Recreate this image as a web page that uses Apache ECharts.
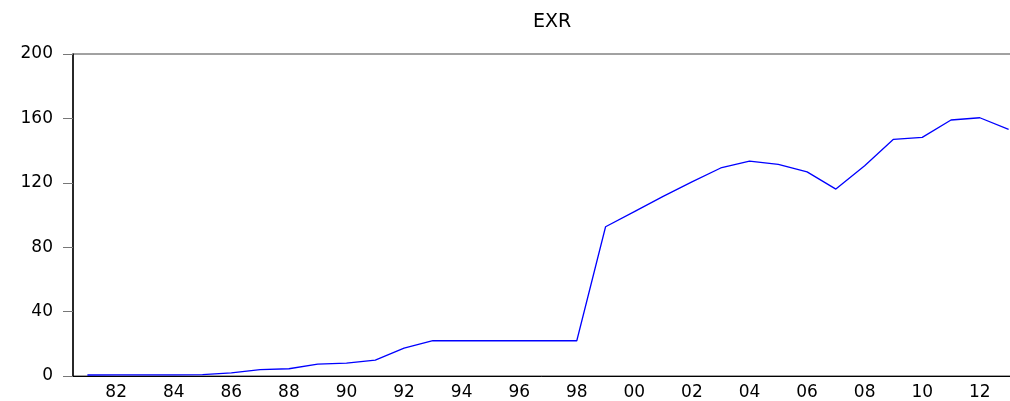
<!DOCTYPE html>
<html>
<head>
<meta charset="utf-8">
<script src="https://cdn.jsdelivr.net/npm/echarts@6/dist/echarts.min.js"></script>
<style>
  html, body { margin: 0; padding: 0; background: #fff; }
  #chart { width: 1010px; height: 401px; }
</style>
</head>
<body>
<div id="chart"></div>
<script>
// years shown on the category axis
var years = ['1981','1982','1983','1984','1985','1986','1987','1988','1989','1990',
             '1991','1992','1993','1994','1995','1996','1997','1998','1999','2000',
             '2001','2002','2003','2004','2005','2006','2007','2008','2009','2010',
             '2011','2012','2013'];
// EXR values
var exr = [0.61, 0.67, 0.72, 0.76, 0.89, 2.0, 4.0, 4.5, 7.4, 8.0,
           9.9, 17.3, 21.9, 21.9, 21.9, 21.9, 21.9, 21.9, 92.7, 102.1,
           111.6, 120.6, 129.2, 133.4, 131.4, 126.8, 116.1, 130.6, 147.0, 148.2,
           159.0, 160.4, 153.2];
var yTicks = [0, 40, 80, 120, 160, 200];

var chart = echarts.init(document.getElementById('chart'));
chart.setOption({
    animation: false,
    backgroundColor: '#fff',
    title: {
        text: 'EXR',
        left: 547,
        top: 8,
        textAlign: 'center',
        textStyle: {
            fontFamily: 'DejaVu Sans',
            fontSize: 19,
            fontWeight: 'normal',
            color: '#000'
        }
    },
    grid: {
        left: 73,
        right: -13,
        top: 54,
        bottom: 25,
        outerBoundsMode: 'none',
        containLabel: false,
        show: true,
        borderColor: '#444',
        borderWidth: 1
    },
    xAxis: {
        type: 'category',
        data: years,
        boundaryGap: true,
        axisLine: { lineStyle: { color: '#000', width: 1 } },
        axisTick: { interval: 0, length: 6, lineStyle: { color: '#000' } },
        axisLabel: {
            interval: function (i) { return i % 2 === 1; },
            formatter: function (v) { return v.slice(2); },
            color: '#000',
            fontFamily: 'DejaVu Sans',
            fontSize: 17,
            margin: 8
        },
        splitLine: { show: false }
    },
    yAxis: {
        type: 'value',
        min: yTicks[0],
        max: yTicks[yTicks.length - 1],
        interval: 40,
        axisLine: { show: true, lineStyle: { color: '#000', width: 1.5 } },
        axisTick: { show: true, length: 10, lineStyle: { color: '#777' } },
        axisLabel: {
            color: '#000',
            fontFamily: 'DejaVu Sans',
            fontSize: 17,
            margin: 20
        },
        splitLine: { show: false }
    },
    series: [{
        name: 'EXR',
        type: 'line',
        data: exr,
        symbol: 'none',
        lineStyle: { color: '#0000ff', width: 1.3 }
    }]
});
</script>
</body>
</html>
